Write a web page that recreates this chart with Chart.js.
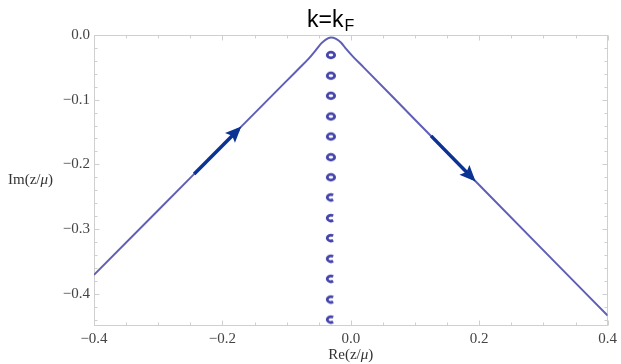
<!DOCTYPE html>
<html>
<head>
<meta charset="utf-8">
<script src="https://cdn.jsdelivr.net/npm/chart.js@4/dist/chart.umd.min.js"></script>
<style>
  html, body { margin: 0; padding: 0; background: #fff; }
  canvas { display: block; }
</style>
</head>
<body>
<canvas id="chart" width="621" height="364"></canvas>
<script>
"use strict";
const canvas = document.getElementById('chart');
const ctx = canvas.getContext('2d');

// tick labels
const xTicks = [-0.4, -0.2, 0.0, 0.2, 0.4];
const yTicks = [0.0, -0.1, -0.2, -0.3, -0.4];

// integration contour
const contourX = [-0.4, -0.3, -0.2, -0.1, -0.08, -0.066, -0.055, -0.046, -0.039, -0.031, -0.023, -0.015, -0.007, 0.003, 0.02, 0.1, 0.2, 0.3, 0.4];
const contourY = [-0.371, -0.271, -0.171, -0.071, -0.051, -0.037, -0.024, -0.013, -0.007, -0.004, -0.006, -0.012, -0.022, -0.033, -0.050, -0.131, -0.232, -0.333, -0.434];

// poles on the imaginary axis
const poleX = -0.031;
const ringY = [-0.031, -0.063, -0.094, -0.126, -0.157, -0.189, -0.220];
const openY = [-0.251, -0.283, -0.314, -0.346, -0.377, -0.409, -0.440];

// direction arrows
const arrowUpX = [-0.244, -0.175];
const arrowUpY = [-0.215, -0.146];
const arrowDownX = [0.125, 0.19];
const arrowDownY = [-0.156, -0.222];

function pts(xs, ys) {
    return xs.map((x, i) => ({ x: x, y: ys[i] }));
}
function fmt(v) {
    if (Math.abs(v) < 1e-9) return '0.0';
    return (v < 0 ? '\u2212' : '') + Math.abs(v).toFixed(1);
}

// point glyphs for the poles
function poleGlyph(open) {
    const c = document.createElement('canvas');
    c.width = 16; c.height = 14;
    const g = c.getContext('2d');
    g.strokeStyle = '#4343aa';
    g.lineWidth = 2.8;
    g.beginPath();
    if (open) {
        g.ellipse(8, 7, 3.7, 2.8, 0, 0.3 * Math.PI, 1.7 * Math.PI);
    } else {
        g.ellipse(8, 7, 3.7, 2.8, 0, 0, 2 * Math.PI);
    }
    g.stroke();
    return c;
}

const framePlugin = {
    id: 'frame',
    beforeDatasetsDraw(chart) {
        const a = chart.chartArea;
        const xs = chart.scales.x, ys = chart.scales.y;
        const c = chart.ctx;
        c.save();
        c.strokeStyle = '#cfcfcf';
        c.lineWidth = 1;
        const L = Math.round(a.left) + 0.5, R = Math.round(a.right) - 0.5;
        const T = Math.round(a.top) + 0.5, B = Math.round(a.bottom) - 0.5;
        c.strokeRect(L, T, R - L, B - T);
        c.beginPath();
        for (let i = -8; i <= 8; i++) {
            const v = i * 0.05;
            const len = (i % 4 === 0) ? 5 : 3;
            const px = Math.round(xs.getPixelForValue(v)) + 0.5;
            c.moveTo(px, B); c.lineTo(px, B - len);
            c.moveTo(px, T); c.lineTo(px, T + len);
        }
        for (let i = 0; i <= 22; i++) {
            const v = -i * 0.02;
            const len = (i % 5 === 0) ? 5 : 3;
            const py = Math.round(ys.getPixelForValue(v)) + 0.5;
            c.moveTo(L, py); c.lineTo(L + len, py);
            c.moveTo(R, py); c.lineTo(R - len, py);
        }
        c.stroke();
        c.restore();
    },
    afterDatasetsDraw(chart) {
        const c = chart.ctx;
        // arrow heads
        [3, 4].forEach(idx => {
            const meta = chart.getDatasetMeta(idx);
            const p0 = meta.data[0], p1 = meta.data[1];
            const ang = Math.atan2(p1.y - p0.y, p1.x - p0.x);
            c.save();
            c.translate(p1.x, p1.y);
            c.rotate(ang);
            c.fillStyle = '#0b3394';
            c.beginPath();
            c.moveTo(4, 0);
            c.lineTo(-12, -7);
            c.lineTo(-9, 0);
            c.lineTo(-12, 7);
            c.closePath();
            c.fill();
            c.restore();
        });
    },
    afterDraw(chart) {
        const c = chart.ctx;
        const a = chart.chartArea;
        c.save();
        c.fillStyle = '#000';
        c.textBaseline = 'alphabetic';
        c.font = '23px "Liberation Sans", Arial, sans-serif';
        c.fillText('k=k', 307, 27);
        const w = c.measureText('k=k').width;
        c.font = '16px "Liberation Sans", Arial, sans-serif';
        c.fillText('F', 307 + w + 1, 31);

        // axis titles
        c.fillStyle = '#333';
        c.textBaseline = 'middle';
        function label(text, x, y, center) {
            const parts = [[text, false], ['\u03bc', true], [')', false]];
            let total = 0;
            parts.forEach(p => {
                c.font = (p[1] ? 'italic ' : '') + '15px "Liberation Serif", "Times New Roman", serif';
                total += c.measureText(p[0]).width;
            });
            let cx = center ? x - total / 2 : x;
            parts.forEach(p => {
                c.font = (p[1] ? 'italic ' : '') + '15px "Liberation Serif", "Times New Roman", serif';
                c.fillText(p[0], cx, y);
                cx += c.measureText(p[0]).width;
            });
        }
        label('Im(z/', 8, (a.top + a.bottom) / 2, false);
        label('Re(z/', (a.left + a.right) / 2, 355, true);
        c.restore();
    }
};

const tickFont = { family: '"Liberation Serif", "Times New Roman", serif', size: 15 };

let myChart = new Chart(ctx, {
    type: 'scatter',
    data: {
        datasets: [
            {
                data: pts(contourX, contourY),
                showLine: true,
                borderColor: '#5f5fb7',
                borderWidth: 2,
                pointRadius: 0,
                cubicInterpolationMode: 'monotone',
                order: 2
            },
            {
                data: ringY.map(y => ({ x: poleX, y: y })),
                pointStyle: poleGlyph(false),
                pointRadius: 5,
                order: 1
            },
            {
                data: openY.map(y => ({ x: poleX, y: y })),
                pointStyle: poleGlyph(true),
                pointRadius: 5,
                order: 1
            },
            {
                data: pts(arrowUpX, arrowUpY),
                showLine: true,
                borderColor: '#0b3394',
                borderWidth: 3.5,
                pointRadius: 0,
                order: 0
            },
            {
                data: pts(arrowDownX, arrowDownY),
                showLine: true,
                borderColor: '#0b3394',
                borderWidth: 3.5,
                pointRadius: 0,
                order: 0
            }
        ]
    },
    options: {
        responsive: false,
        animation: false,
        events: [],
        layout: { padding: { top: 35, right: 12, left: 0, bottom: 0 } },
        plugins: {
            legend: { display: false },
            tooltip: { enabled: false }
        },
        scales: {
            x: {
                type: 'linear',
                min: -0.4,
                max: 0.4,
                afterBuildTicks: s => { s.ticks = xTicks.map(v => ({ value: v })); },
                afterFit: s => { s.height = 38; },
                grid: { display: false, drawTicks: false },
                border: { display: false },
                ticks: {
                    callback: v => fmt(v),
                    font: tickFont,
                    color: '#444',
                    padding: 4,
                    maxRotation: 0,
                    autoSkip: false
                }
            },
            y: {
                type: 'linear',
                min: -0.45,
                max: 0,
                afterBuildTicks: s => { s.ticks = yTicks.map(v => ({ value: v })); },
                afterFit: s => { s.width = 94; },
                grid: { display: false, drawTicks: false },
                border: { display: false },
                ticks: {
                    callback: v => fmt(v),
                    font: tickFont,
                    color: '#444',
                    padding: 4,
                    autoSkip: false
                }
            }
        }
    },
    plugins: [framePlugin]
});
</script>
</body>
</html>
